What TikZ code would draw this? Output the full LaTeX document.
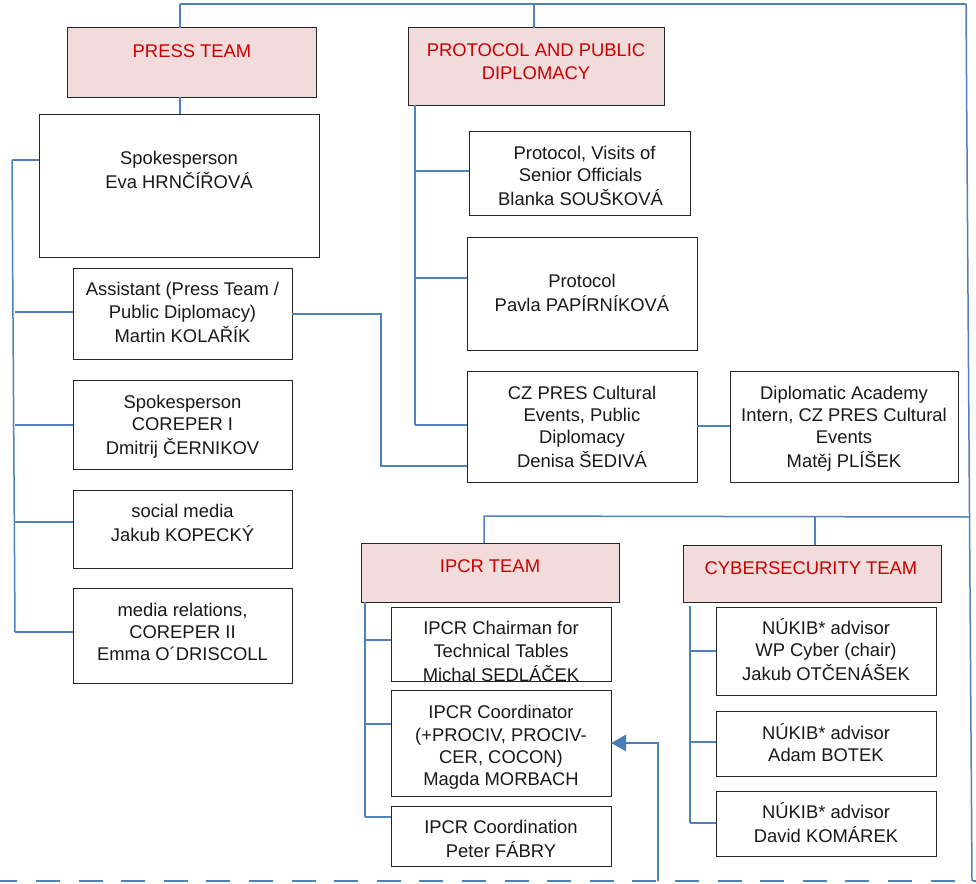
\documentclass[tikz,border=0pt]{standalone}
\usepackage{fontspec}
\setmainfont{Liberation Sans}
\usetikzlibrary{arrows.meta}
\definecolor{linkblue}{HTML}{4F81BD}
\definecolor{arrblue}{HTML}{4A7EBB}
\definecolor{headfill}{HTML}{F2DCDB}
\definecolor{headred}{HTML}{CC0000}
\newcommand{\bodyfs}{\fontsize{18.4}{22.3}\selectfont}
\tikzset{
  box/.style={draw=black!85, line width=1pt, fill=white, anchor=north west, inner sep=0pt, outer sep=0pt},
  headbox/.style={box, fill=headfill},
  txt/.style={align=center, font=\bodyfs, inner sep=0pt, text=black!90},
  headtxt/.style={txt, text=headred},
  conn/.style={draw=linkblue, line width=1.5pt},
  arr/.style={draw=arrblue, line width=2.7pt, -{Triangle[length=15pt,width=16pt]}},
  dashline/.style={draw=linkblue, line width=1.6pt, dash pattern=on 24pt off 18.6pt, dash phase=6.6pt}
}
\begin{document}
\begin{tikzpicture}[x=1pt,y=-1pt]
\useasboundingbox (0,0) rectangle (976,883);
% ---- coordinates for connector junctions
\coordinate (topL) at (180,4);
\coordinate (topR) at (966,4);
\coordinate (ptop) at (534,4);
\coordinate (rbot) at (972,881);
\coordinate (midR) at (970,517);
\coordinate (midL) at (484,516);
\coordinate (cyTop) at (815,516);
\coordinate (lb1) at (12,160);
\coordinate (lb2) at (15,312);
\coordinate (lb3) at (15,425);
\coordinate (lb4) at (15,522);
\coordinate (lb5) at (15,632);
\coordinate (pb0) at (415,105);
\coordinate (pb1) at (415,171);
\coordinate (pb2) at (415,278);
\coordinate (pb3) at (415,425);
\coordinate (ab1) at (381,314);
\coordinate (ab2) at (381,466);
\coordinate (di) at (700,426);
\coordinate (ib0) at (365,602);
\coordinate (ib1) at (365,640);
\coordinate (ib2) at (365,724);
\coordinate (ib3) at (365,817);
\coordinate (cb0) at (690,606);
\coordinate (cb1) at (690,651);
\coordinate (cb2) at (690,742);
\coordinate (cb3) at (690,823);
\coordinate (arrS) at (658,881);
\coordinate (dashL) at (0,881);
\coordinate (dashR) at (976,881);

% ---- header boxes
\node[headbox, minimum width=249pt, minimum height=69pt] (press) at (67,28) {};
\node[headbox, minimum width=256pt, minimum height=77pt] (proto) at (408,28) {};
\node[headbox, minimum width=258pt, minimum height=59pt] (ipcr) at (361,543) {};
\node[headbox, minimum width=258pt, minimum height=57pt] (cyber) at (683,545) {};

% ---- person boxes
\node[box, minimum width=280pt, minimum height=143pt] (eva) at (39,114) {};
\node[box, minimum width=219pt, minimum height=91pt] (asst) at (73,268) {};
\node[box, minimum width=219pt, minimum height=89pt] (core1) at (73,380) {};
\node[box, minimum width=219pt, minimum height=78pt] (social) at (73,490) {};
\node[box, minimum width=219pt, minimum height=95pt] (media) at (73,588) {};
\node[box, minimum width=221pt, minimum height=84pt] (visits) at (469,131) {};
\node[box, minimum width=230pt, minimum height=113pt] (pavla) at (467,237) {};
\node[box, minimum width=230pt, minimum height=111pt] (denisa) at (467,371) {};
\node[box, minimum width=228pt, minimum height=111pt] (intern) at (730,371) {};
\node[box, minimum width=220pt, minimum height=74pt] (chair) at (391,607) {};
\node[box, minimum width=220pt, minimum height=106pt] (coord) at (391,690) {};
\node[box, minimum width=220pt, minimum height=60pt] (coordn) at (391,806) {};
\node[box, minimum width=220pt, minimum height=88pt] (nuk1) at (716,607) {};
\node[box, minimum width=220pt, minimum height=65pt] (nuk2) at (716,711) {};
\node[box, minimum width=220pt, minimum height=65pt] (nuk3) at (716,791) {};

% ---- texts
\node[headtxt] (pressT) at (192,53) {PRESS TEAM\strut};
\node[headtxt] (protoT) at (536,63.5) {PROTOCOL AND PUBLIC\strut\\DIPLOMACY\strut};
\node[headtxt] (ipcrT) at (490,568) {IPCR TEAM\strut};
\node[headtxt] (cyberT) at (811,570) {CYBERSECURITY TEAM\strut};

\node[txt] (evaT) at (179,172) {Spokesperson\strut\\Eva HRNČÍŘOVÁ\strut};
\node[txt] (asstT) at (182.5,314.5) {Assistant (Press Team /\strut\\Public Diplomacy)\strut\\Martin KOLAŘÍK\strut};
\node[txt] (core1T) at (182.5,427) {Spokesperson\strut\\COREPER I\strut\\Dmitrij ČERNIKOV\strut};
\node[txt] (socialT) at (182.5,525) {social media\strut\\Jakub KOPECKÝ\strut};
\node[txt] (mediaT) at (182.5,634) {media relations,\strut\\COREPER II\strut\\Emma O´DRISCOLL\strut};
\node[txt] (visitsT) at (580.5,178) {\hspace*{8pt}Protocol, Visits of\strut\\Senior Officials\strut\\Blanka SOUŠKOVÁ\strut};
\node[txt] (pavlaT) at (582,295) {Protocol\strut\\Pavla PAPÍRNÍKOVÁ\strut};
\node[txt] (denisaT) at (582,429) {CZ PRES Cultural\strut\\Events, Public\strut\\Diplomacy\strut\\Denisa ŠEDIVÁ\strut};
\node[txt] (internT) at (844,429) {Diplomatic Academy\strut\\Intern, CZ PRES Cultural\strut\\Events\strut\\Matěj PLÍŠEK\strut};
\node[txt] (chairT) at (501,653.5) {IPCR Chairman for\strut\\Technical Tables\strut\\Michal SEDLÁČEK\strut};
\node[txt] (coordT) at (501,747.8) {IPCR Coordinator\strut\\(+PROCIV, PROCIV-\strut\\CER, COCON)\strut\\Magda MORBACH\strut};
\node[txt] (coordnT) at (501,841) {IPCR Coordination\strut\\Peter FÁBRY\strut};
\node[txt] (nuk1T) at (826,653) {NÚKIB* advisor\strut\\WP Cyber (chair)\strut\\Jakub OTČENÁŠEK\strut};
\node[txt] (nuk2T) at (826,746) {NÚKIB* advisor\strut\\Adam BOTEK\strut};
\node[txt] (nuk3T) at (826,826) {NÚKIB* advisor\strut\\David KOMÁREK\strut};

% ---- connectors
\draw[conn] (topL) -- (topR);
\draw[conn] (topR) -- (rbot);
\draw[conn] (topL) -- (topL |- press.north);
\draw[conn] (topL |- press.south) -- (topL |- eva.north);
\draw[conn] (ptop) -- (ptop |- proto.north);
\draw[conn] (ipcr.north -| midL) -- (midL) -- (midR);
\draw[conn] (cyTop) -- (cyTop |- cyber.north);

% press team bus
\draw[conn] (lb1) -- (lb5);
\draw[conn] (lb1) -- (lb1 -| eva.west);
\draw[conn] (lb2) -- (lb2 -| asst.west);
\draw[conn] (lb3) -- (lb3 -| core1.west);
\draw[conn] (lb4) -- (lb4 -| social.west);
\draw[conn] (lb5) -- (lb5 -| media.west);

% protocol bus
\draw[conn] (pb0) -- (pb3);
\draw[conn] (pb1) -- (pb1 -| visits.west);
\draw[conn] (pb2) -- (pb2 -| pavla.west);
\draw[conn] (pb3) -- (pb3 -| denisa.west);

% assistant to Denisa
\draw[conn] (ab1 -| asst.east) -- (ab1) -- (ab2) -- (ab2 -| denisa.west);
% Denisa to intern
\draw[conn] (di -| denisa.east) -- (di -| intern.west);

% IPCR bus
\draw[conn] (ib0) -- (ib3);
\draw[conn] (ib1) -- (ib1 -| chair.west);
\draw[conn] (ib2) -- (ib2 -| coord.west);
\draw[conn] (ib3) -- (ib3 -| coordn.west);

% cyber bus
\draw[conn] (cb0) -- (cb3);
\draw[conn] (cb1) -- (cb1 -| nuk1.west);
\draw[conn] (cb2) -- (cb2 -| nuk2.west);
\draw[conn] (cb3) -- (cb3 -| nuk3.west);

% arrow into coordinator
\draw[arr] (arrS) |- (coord.east);

% bottom dashed line
\draw[dashline] (dashL) -- (dashR);
\end{tikzpicture}
\end{document}
